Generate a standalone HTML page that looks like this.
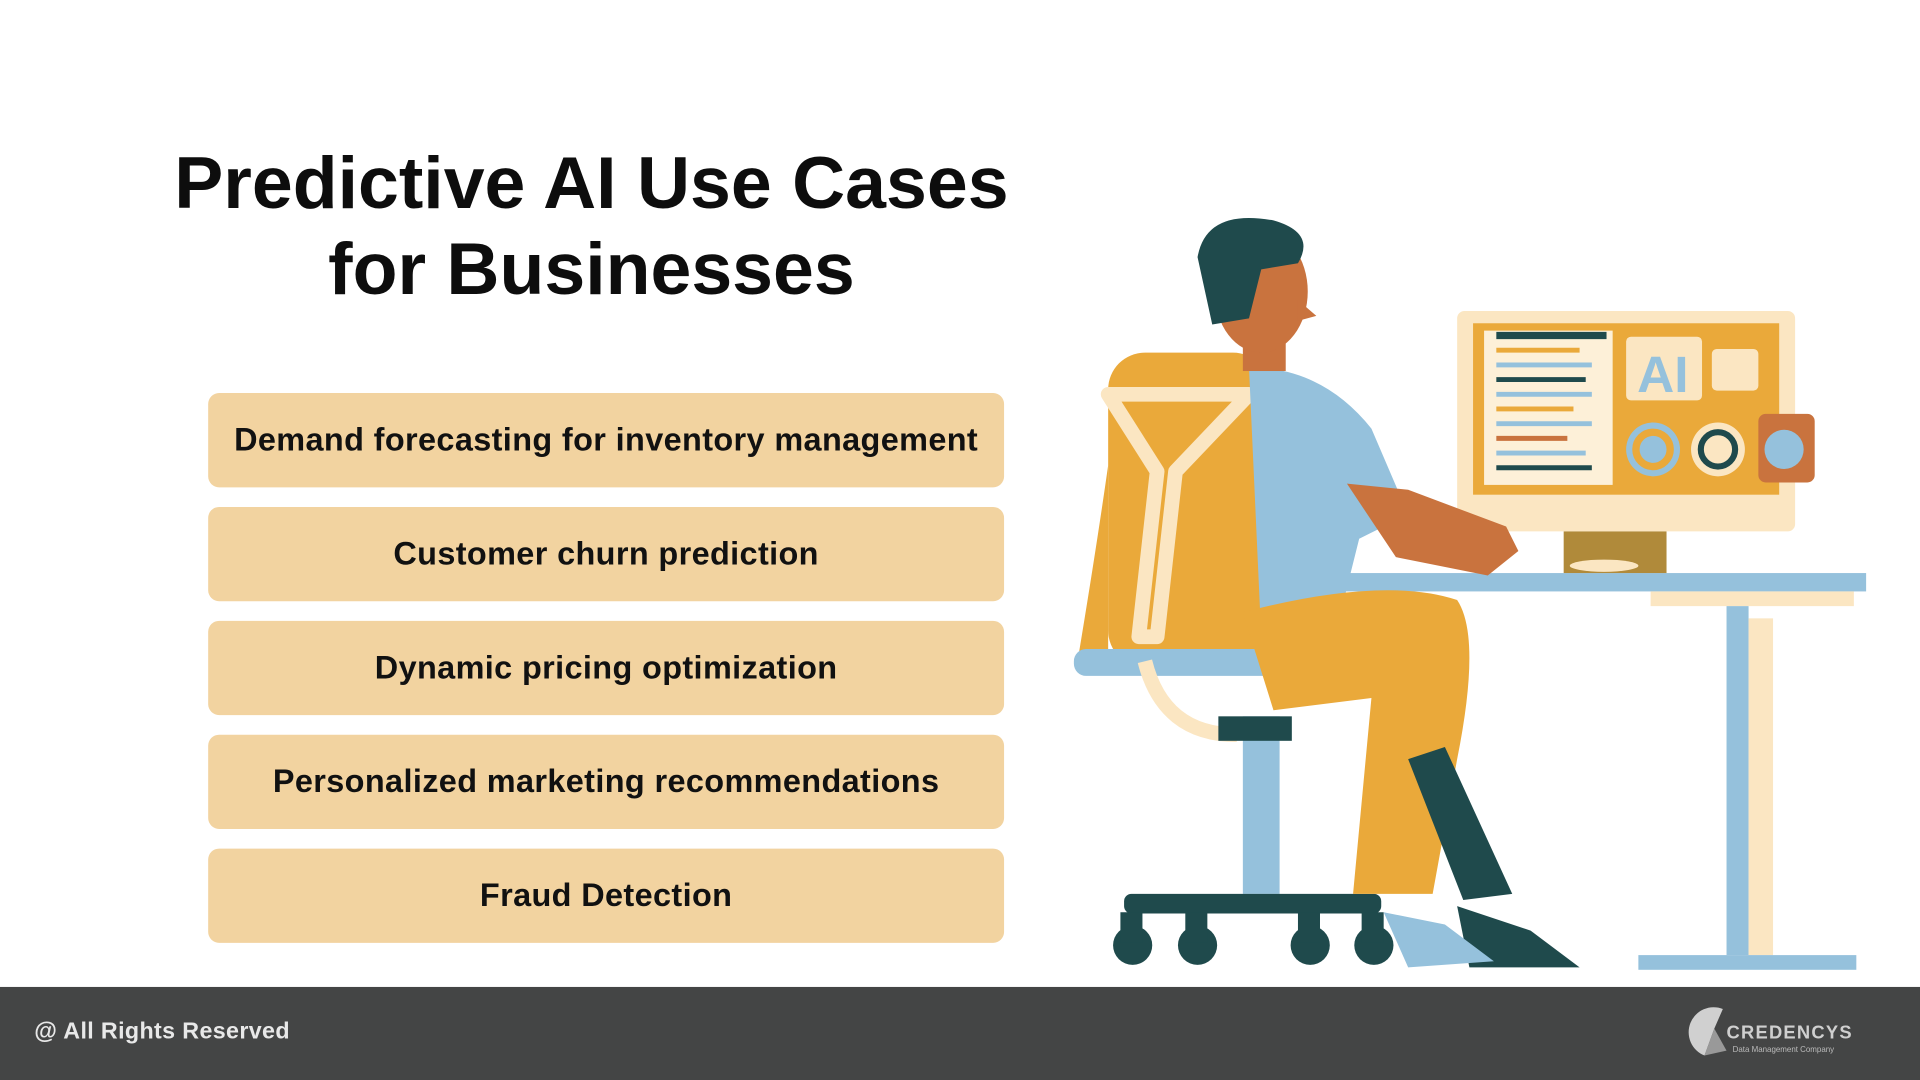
<!DOCTYPE html>
<html><head><meta charset="utf-8"><style>
html,body{margin:0;padding:0;background:#fff;}
svg{display:block;}
text{font-family:"Liberation Sans",Arial,sans-serif;}
</style></head><body>
<svg width="1920" height="1080" viewBox="0 0 1568 882" xmlns="http://www.w3.org/2000/svg">
<rect width="1568" height="882" fill="#fff"/>
<text x="483" y="170" text-anchor="middle" font-size="60" font-weight="bold" fill="#0d0d0d">Predictive AI Use Cases</text>
<text x="483" y="240" text-anchor="middle" font-size="60" font-weight="bold" fill="#0d0d0d">for Businesses</text>
<g fill="#f2d3a0">
<rect x="170" y="321" width="650" height="77" rx="9"/>
<rect x="170" y="414" width="650" height="77" rx="9"/>
<rect x="170" y="507" width="650" height="77" rx="9"/>
<rect x="170" y="600" width="650" height="77" rx="9"/>
<rect x="170" y="693" width="650" height="77" rx="9"/>
</g>
<g font-size="26.5" font-weight="bold" fill="#111" text-anchor="middle" letter-spacing="0.3">
<text x="495" y="368">Demand forecasting for inventory management</text>
<text x="495" y="461">Customer churn prediction</text>
<text x="495" y="554">Dynamic pricing optimization</text>
<text x="495" y="647">Personalized marketing recommendations</text>
<text x="495" y="740">Fraud Detection</text>
</g>
<g>
<rect x="1090" y="468" width="434" height="15" fill="#95c1dc"/>
<rect x="1348" y="483" width="166" height="12" fill="#fbe6c2"/>
<rect x="1410" y="495" width="18" height="285" fill="#95c1dc"/>
<rect x="1428" y="505" width="20" height="275" fill="#fbe6c2"/>
<rect x="1338" y="780" width="178" height="12" fill="#95c1dc"/>
<rect x="1190" y="254" width="276" height="180" rx="6" fill="#fbe6c2"/>
<rect x="1203" y="264" width="250" height="140" fill="#eaa93a"/>
<rect x="1212" y="270" width="105" height="126" fill="#fdf0d8"/>
<g stroke-width="4">
<line x1="1222" y1="274" x2="1312" y2="274" stroke="#1f4a4c" stroke-width="6"/>
<line x1="1222" y1="286" x2="1290" y2="286" stroke="#eaa93a"/>
<line x1="1222" y1="298" x2="1300" y2="298" stroke="#95c1dc"/>
<line x1="1222" y1="310" x2="1295" y2="310" stroke="#1f4a4c"/>
<line x1="1222" y1="322" x2="1300" y2="322" stroke="#95c1dc"/>
<line x1="1222" y1="334" x2="1285" y2="334" stroke="#eaa93a"/>
<line x1="1222" y1="346" x2="1300" y2="346" stroke="#95c1dc"/>
<line x1="1222" y1="358" x2="1280" y2="358" stroke="#c9733e"/>
<line x1="1222" y1="370" x2="1295" y2="370" stroke="#95c1dc"/>
<line x1="1222" y1="382" x2="1300" y2="382" stroke="#1f4a4c"/>
</g>
<rect x="1328" y="275" width="62" height="52" rx="4" fill="#fbe6c2"/>
<text x="1358" y="320" text-anchor="middle" font-size="42" font-weight="bold" fill="#95c1dc">AI</text>
<rect x="1398" y="285" width="38" height="34" rx="4" fill="#fbe6c2"/>
<circle cx="1350" cy="367" r="22" fill="#95c1dc"/><circle cx="1350" cy="367" r="14" fill="none" stroke="#eaa93a" stroke-width="6"/>
<circle cx="1403" cy="367" r="22" fill="#fbe6c2"/><circle cx="1403" cy="367" r="14" fill="none" stroke="#1f4a4c" stroke-width="5"/>
<rect x="1436" y="338" width="46" height="56" rx="6" fill="#c9733e"/><circle cx="1457" cy="367" r="16" fill="#95c1dc"/>
<rect x="1277" y="434" width="84" height="34" fill="#b08a3a"/>
<ellipse cx="1310" cy="462" rx="28" ry="5" fill="#fbe6c2"/>
<rect x="905" y="288" width="132" height="257" rx="30" fill="#eaa93a"/>
<path d="M880 540 Q895 450 905 380 L905 545 Z" fill="#eaa93a"/>
<path d="M905 322 L1020 322 L960 385 L945 520 L930 520 L945 385 Z" fill="none" stroke="#fbe6c2" stroke-width="12" stroke-linejoin="round"/>
<rect x="877" y="530" width="250" height="22" rx="10" fill="#95c1dc"/>
<path d="M935 540 Q950 600 1010 600" fill="none" stroke="#fbe6c2" stroke-width="12"/>
<rect x="1015" y="585" width="30" height="145" fill="#95c1dc"/>
<rect x="995" y="585" width="60" height="20" fill="#1f4a4c"/>
<rect x="918" y="730" width="210" height="16" rx="6" fill="#1f4a4c"/>
<g fill="#1f4a4c"><circle cx="925" cy="772" r="16"/><circle cx="978" cy="772" r="16"/><circle cx="1070" cy="772" r="16"/><circle cx="1122" cy="772" r="16"/></g>
<g fill="#1f4a4c"><rect x="915" y="745" width="18" height="25"/><rect x="968" y="745" width="18" height="25"/><rect x="1060" y="745" width="18" height="25"/><rect x="1112" y="745" width="18" height="25"/></g>
<path d="M1020 300 Q1080 300 1120 350 L1150 420 L1110 440 L1095 500 L1030 520 Z" fill="#95c1dc"/>
<path d="M1100 395 L1150 400 L1230 430 L1240 450 L1215 470 L1140 455 Z" fill="#c9733e"/>
<path d="M1015 500 Q1130 470 1190 490 Q1210 520 1190 620 L1170 730 L1105 730 L1120 570 L1040 580 Z" fill="#eaa93a"/>
<path d="M1150 620 L1180 610 L1235 730 L1195 735 Z" fill="#1f4a4c"/>
<path d="M1190 740 L1250 760 L1290 790 L1200 790 Z" fill="#1f4a4c"/>
<path d="M1130 745 L1180 755 L1220 785 L1150 790 Z" fill="#95c1dc"/>
<rect x="1015" y="255" width="35" height="48" fill="#c9733e"/>
<ellipse cx="1030" cy="238" rx="38" ry="50" fill="#c9733e"/>
<path d="M978 210 Q985 170 1040 180 Q1075 190 1060 215 L1030 220 L1020 260 L990 265 Z" fill="#1f4a4c"/>
<path d="M1060 245 L1075 258 L1060 262 Z" fill="#c9733e"/>
</g>
<rect x="0" y="806" width="1568" height="76" fill="#444545"/>
<text x="28" y="848" font-size="19" font-weight="bold" fill="#e8e8e8" letter-spacing="0.3">@ All Rights Reserved</text>
<path d="M1407 824 A20 20 0 0 0 1392 862 L1400 840 Z" fill="#d0d0d0"/>
<path d="M1392 862 L1400 840 L1410 858 Z" fill="#999"/>
<text x="1410" y="848" font-size="15" font-weight="bold" fill="#cfcfcf" letter-spacing="1">CREDENCYS</text>
<text x="1415" y="859" font-size="6.5" fill="#bbb">Data Management Company</text>
</svg>
</body></html>
